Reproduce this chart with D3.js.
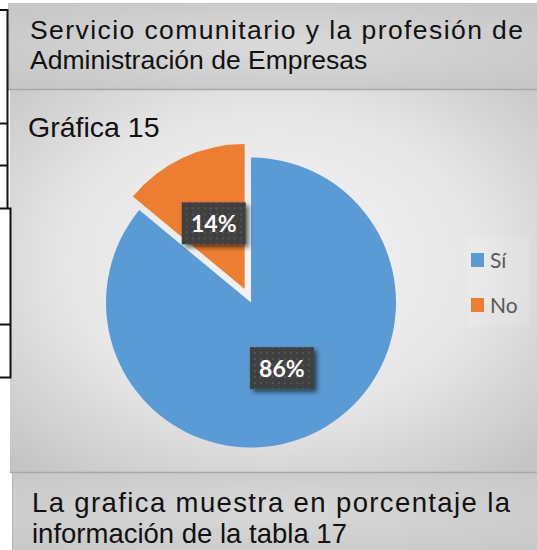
<!DOCTYPE html>
<html><head><meta charset="utf-8">
<script src="https://cdn.jsdelivr.net/npm/d3@7"></script>
<style>html,body{margin:0;padding:0;background:#fff;}svg{display:block;}</style>
</head><body>
<svg id="c" width="537" height="550"></svg>
<script>
const categories = ["Sí", "No"];
const values = [86, 14];
const colors = ["#5B9BD5", "#ED7D31"];
const labels = ["86%", "14%"];
const titleLines = ["Servicio comunitario y la profesión de", "Administración de Empresas"];
const chartTitle = "Gráfica 15";
const footLines = ["La grafica muestra en porcentaje la", "información de la tabla 17"];

const svg = d3.select("#c");
const defs = svg.append("defs");

const gTop = defs.append("radialGradient").attr("id","gTop").attr("cx","50%").attr("cy","50%").attr("r","75%");
gTop.append("stop").attr("offset","0%").attr("stop-color","#dadada");
gTop.append("stop").attr("offset","100%").attr("stop-color","#c4c4c4");

const gMid = defs.append("radialGradient").attr("id","gMid").attr("cx","50%").attr("cy","45%").attr("r","72%");
gMid.append("stop").attr("offset","0%").attr("stop-color","#f5f5f5");
gMid.append("stop").attr("offset","55%").attr("stop-color","#e6e6e6");
gMid.append("stop").attr("offset","100%").attr("stop-color","#c4c4c4");

const gBot = defs.append("radialGradient").attr("id","gBot").attr("cx","50%").attr("cy","50%").attr("r","80%");
gBot.append("stop").attr("offset","0%").attr("stop-color","#d8d8d8");
gBot.append("stop").attr("offset","100%").attr("stop-color","#c6c6c6");

const pat = defs.append("pattern").attr("id","dots").attr("patternUnits","userSpaceOnUse").attr("width",6).attr("height",6);
pat.append("rect").attr("width",6).attr("height",6).attr("fill","#404040");
pat.append("rect").attr("x",2).attr("y",2).attr("width",2).attr("height",2).attr("fill","#555555");

const shadow = defs.append("filter").attr("id","sh").attr("x","-30%").attr("y","-30%").attr("width","170%").attr("height","170%");
shadow.append("feGaussianBlur").attr("in","SourceAlpha").attr("stdDeviation",2.5).attr("result","b");
shadow.append("feOffset").attr("in","b").attr("dx",3).attr("dy",3).attr("result","o");
shadow.append("feComponentTransfer").attr("in","o").attr("result","o2").append("feFuncA").attr("type","linear").attr("slope",0.6);
const fm = shadow.append("feMerge");
fm.append("feMergeNode").attr("in","o2");
fm.append("feMergeNode").attr("in","SourceGraphic");

// Panels
svg.append("rect").attr("x",8).attr("y",3).attr("width",529).attr("height",86).attr("fill","url(#gTop)");
svg.append("rect").attr("x",10).attr("y",90).attr("width",527).attr("height",382).attr("fill","url(#gMid)");
svg.append("line").attr("x1",8).attr("x2",537).attr("y1",89.5).attr("y2",89.5).attr("stroke","#a9a9a9").attr("stroke-width",1.5);
svg.append("rect").attr("x",12).attr("y",473).attr("width",525).attr("height",77).attr("fill","url(#gBot)");
svg.append("line").attr("x1",10).attr("x2",537).attr("y1",472.5).attr("y2",472.5).attr("stroke","#a9a9a9").attr("stroke-width",1.5);
svg.append("line").attr("x1",12.5).attr("x2",12.5).attr("y1",473).attr("y2",550).attr("stroke","#b5b5b5").attr("stroke-width",1);

// left black table lines
const bl = svg.append("g").attr("stroke","#111").attr("stroke-width",2).attr("fill","none");
bl.append("path").attr("d","M0,10H7.5V208");
bl.append("path").attr("d","M0,123.5H8");
bl.append("path").attr("d","M0,165.5H8");
bl.append("path").attr("d","M0,208.5H10.5V377.5H0");
bl.append("path").attr("d","M0,324.5H10");

// Header text
const tf = "'Liberation Sans', Arial, sans-serif";
svg.append("text").attr("x",30).attr("y",39).attr("font-family",tf).attr("font-size",26.5).attr("fill","#111")
  .attr("textLength",493).attr("lengthAdjust","spacing").text(titleLines[0]);
svg.append("text").attr("x",30).attr("y",69).attr("font-family",tf).attr("font-size",26.5).attr("fill","#111").text(titleLines[1]);

svg.append("text").attr("x",28).attr("y",137).attr("font-family",tf).attr("font-size",28.5).attr("fill","#111").text(chartTitle);

svg.append("text").attr("x",32).attr("y",512).attr("font-family",tf).attr("font-size",27.5).attr("fill","#111")
  .attr("textLength",478).attr("lengthAdjust","spacing").text(footLines[0]);
svg.append("text").attr("x",32).attr("y",543).attr("font-family",tf).attr("font-size",27.5).attr("fill","#111").text(footLines[1]);

// Pie
const cx = 251, cy = 302.5, R = 145, explode = 15;
const pie = d3.pie().sort(null).value(d => d)(values);
const arc = d3.arc().innerRadius(0).outerRadius(R);
const g = svg.append("g").attr("transform",`translate(${cx},${cy})`);
pie.forEach((p, i) => {
  const mid = (p.startAngle + p.endAngle) / 2;
  const off = i === 1 ? explode : 0;
  const dx = Math.sin(mid) * off, dy = -Math.cos(mid) * off;
  const sg = g.append("g").attr("transform",`translate(${dx},${dy})`);
  sg.append("path").attr("d", arc(p)).attr("fill", colors[i]);
});
pie.forEach((p, i) => {
  const mid = (p.startAngle + p.endAngle) / 2;
  const off = i === 1 ? explode : 0;
  const r = off + R * 0.5;
  const lx = Math.sin(mid) * r, ly = -Math.cos(mid) * r;
  const lg = g.append("g").attr("transform",`translate(${lx},${ly})`);
  lg.append("rect").attr("x",-32).attr("y",-21).attr("width",64).attr("height",42).attr("fill","url(#dots)").attr("filter","url(#sh)");
  lg.append("text").attr("text-anchor","middle").attr("y",8.5).attr("font-family","Lato, 'Open Sans', sans-serif")
    .attr("font-weight","bold").attr("font-size",23).attr("fill","#fff").text(labels[i]);
});

// Legend
svg.append("rect").attr("x",467).attr("y",237).attr("width",62).attr("height",90).attr("fill","#ffffff").attr("opacity",0.12);
const leg = svg.append("g");
categories.forEach((c, i) => {
  const y = 260 + i * 45;
  leg.append("rect").attr("x",471).attr("y",y-7).attr("width",13).attr("height",14).attr("fill",colors[i]);
  leg.append("text").attr("x",490).attr("y",y+7.5).attr("font-family","Lato, 'Open Sans', sans-serif")
    .attr("font-size",21).attr("fill","#595959").text(c);
});
</script>
</body></html>
